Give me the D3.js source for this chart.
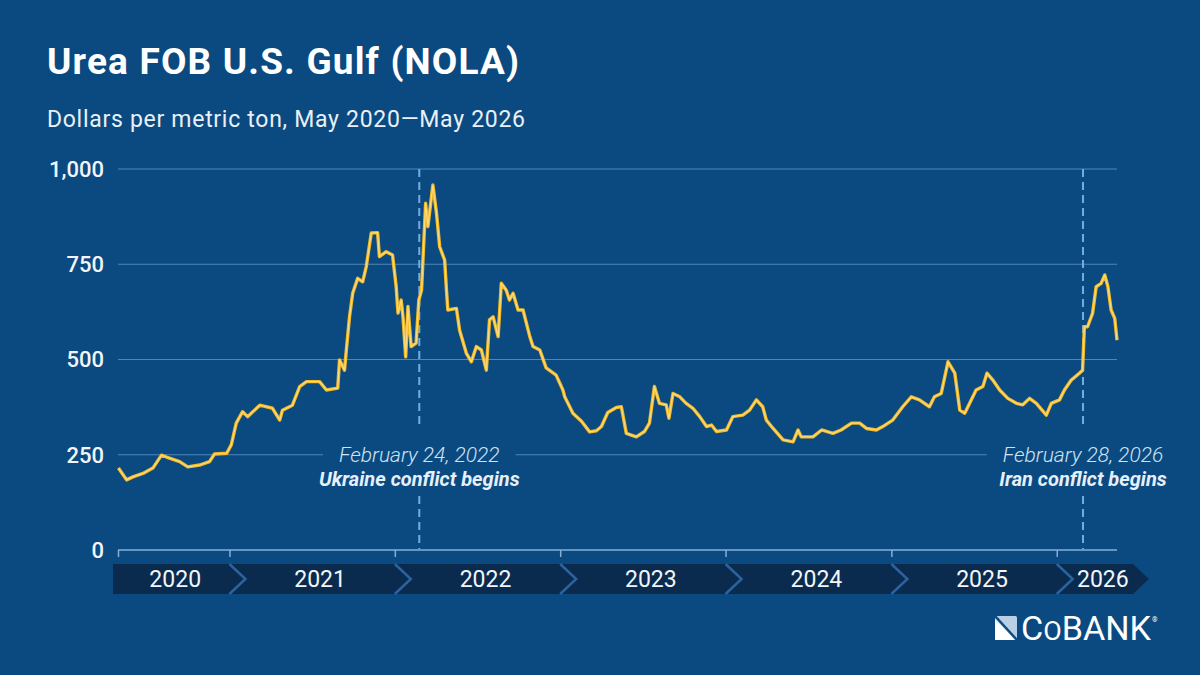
<!DOCTYPE html>
<html><head><meta charset="utf-8">
<script src="https://cdn.jsdelivr.net/npm/d3@7"></script>
<style>
html,body{margin:0;padding:0;background:#0b4a80;}
svg{display:block;font-family:Roboto,"Open Sans",sans-serif;}
</style>
</head><body>
<svg id="c" width="1200" height="675"></svg>
<script>
// ---- data ----
const dates = [
"2020-05-01","2020-05-19","2020-06-02","2020-06-24","2020-07-16","2020-08-04","2020-08-15","2020-09-13","2020-10-01","2020-10-27",
"2020-11-18","2020-11-29","2020-12-26","2021-01-05","2021-01-16","2021-01-30","2021-02-10","2021-03-09","2021-04-06","2021-04-22",
"2021-04-28","2021-05-20","2021-06-05","2021-06-20","2021-07-19","2021-08-03","2021-08-28","2021-09-01","2021-09-12","2021-09-16",
"2021-09-23","2021-09-30","2021-10-11","2021-10-22","2021-10-30","2021-11-10","2021-11-24","2021-11-28","2021-12-13","2021-12-27",
"2022-01-04","2022-01-08","2022-01-15","2022-01-19","2022-01-25","2022-01-30","2022-02-06","2022-02-17","2022-02-23","2022-03-01",
"2022-03-10","2022-03-15","2022-03-26","2022-04-03","2022-04-10","2022-04-21","2022-04-25","2022-04-28","2022-05-17","2022-05-24",
"2022-06-08","2022-06-19","2022-06-30","2022-07-11","2022-07-22","2022-07-29","2022-08-06","2022-08-17","2022-08-24","2022-09-04",
"2022-09-11","2022-09-19","2022-09-30","2022-10-11","2022-10-26","2022-11-02","2022-11-17","2022-12-01","2022-12-23","2023-01-07",
"2023-01-11","2023-01-22","2023-01-29","2023-02-17","2023-03-07","2023-03-22","2023-04-02","2023-04-16","2023-05-05","2023-05-16",
"2023-05-27","2023-06-18","2023-07-06","2023-07-17","2023-07-28","2023-08-08","2023-08-23","2023-08-29","2023-09-07","2023-09-22",
"2023-10-06","2023-10-21","2023-11-05","2023-11-20","2023-12-01","2023-12-12","2024-01-03","2024-01-17","2024-02-08","2024-02-23",
"2024-03-09","2024-03-23","2024-03-31","2024-04-15","2024-05-07","2024-05-29","2024-06-09","2024-06-16","2024-07-12","2024-07-31",
"2024-08-25","2024-09-12","2024-10-05","2024-10-23","2024-11-07","2024-11-29","2024-12-13","2025-01-04","2025-01-26","2025-02-14",
"2025-03-04","2025-03-26","2025-04-06","2025-04-21","2025-05-06","2025-05-21","2025-06-01","2025-06-12","2025-07-07","2025-07-22",
"2025-07-31","2025-08-13","2025-08-28","2025-09-15","2025-10-04","2025-10-18","2025-11-02","2025-11-17","2025-12-09","2025-12-20",
"2026-01-07","2026-01-18","2026-02-02","2026-02-20","2026-02-27","2026-03-03","2026-03-10","2026-03-21","2026-03-29","2026-04-09",
"2026-04-17","2026-04-24","2026-05-01","2026-05-09","2026-05-14"
];
const prices = [
215,184,192,201,215,249,244,232,218,223,
232,252,254,276,333,363,350,380,372,341,
367,380,429,442,442,420,425,499,472,525,
612,674,713,704,744,832,833,770,783,774,
691,622,656,612,507,639,534,543,656,682,
910,849,958,884,796,761,682,630,634,577,
516,494,534,525,472,604,612,560,700,682,
656,674,630,630,560,534,525,478,459,420,
402,376,359,338,310,313,324,361,374,376,
306,297,311,333,429,385,381,346,411,402,
385,372,350,324,328,311,315,350,354,367,
394,376,341,319,289,284,315,297,297,315,
306,315,333,333,319,315,324,341,376,402,
394,376,402,411,494,464,367,359,420,429,
464,446,420,398,385,381,398,385,354,385,
394,420,446,464,472,586,586,621,691,700,
722,691,630,608,551
];
const yTicks = [0, 250, 500, 750, 1000];
const years = [2020, 2021, 2022, 2023, 2024, 2025, 2026];
const eventDates = ["2022-02-24", "2026-02-28"];
const eventDateLabels = ["February 24, 2022", "February 28, 2026"];
const eventCaptions = ["Ukraine conflict begins", "Iran conflict begins"];
const titleText = "Urea FOB U.S. Gulf (NOLA)";
const subtitleText = "Dollars per metric ton, May 2020\u2014May 2026";
const domainStart = "2020-04-30", domainEnd = "2026-05-14";

// ---- setup ----
const BG = "#0b4a80";
const svg = d3.select("#c");
const parse = d3.utcParse("%Y-%m-%d");
svg.append("rect").attr("width",1200).attr("height",675).attr("fill",BG);

const x = d3.scaleUtc().domain([parse(domainStart), parse(domainEnd)]).range([118, 1117]);
const y = d3.scaleLinear().domain([0, 1000]).range([550, 169]);

// title
svg.append("text").attr("x",47).attr("y",74).attr("fill","#ffffff")
  .attr("font-size",37).attr("font-weight",700)
  .attr("textLength",472).attr("lengthAdjust","spacing").text(titleText);
svg.append("text").attr("x",47).attr("y",127).attr("fill","#e9f0f7")
  .attr("font-size",23).attr("font-weight",400)
  .attr("textLength",478).attr("lengthAdjust","spacing").text(subtitleText);

// gridlines
const grid = svg.append("g");
grid.selectAll("line").data(yTicks.filter(d=>d>0)).join("line")
  .attr("x1",x.range()[0]).attr("x2",x.range()[1])
  .attr("y1",d=>y(d)).attr("y2",d=>y(d))
  .attr("stroke","#4f86ba").attr("stroke-width",1.2);

// y labels
svg.append("g").selectAll("text").data(yTicks).join("text")
  .attr("x",104).attr("y",d=>y(d)).attr("dy","0.36em")
  .attr("text-anchor","end").attr("fill","#f2f6fa")
  .attr("font-size",22).attr("font-weight",500)
  .text(d=>d3.format(",")(d));

// x axis line
const xAxis = d3.axisBottom(x)
  .tickValues([parse(domainStart)].concat(years.slice(1).map(yr=>new Date(Date.UTC(yr,0,1)))))
  .tickSize(7).tickFormat("");
const ax = svg.append("g").attr("transform","translate(0,550)").call(xAxis);
ax.select(".domain").attr("stroke","#86afd6").attr("stroke-width",1.5).attr("d",`M${x.range()[0]},0H${x.range()[1]}`);
ax.selectAll(".tick line").attr("stroke","#86afd6").attr("stroke-width",1.5);

// annotations
const annG = svg.append("g");
eventDates.forEach((ds,i)=>{
  const ex = x(parse(ds));
  const g = annG.append("g");
  const t1 = g.append("text").attr("x",ex).attr("y",462).attr("text-anchor","middle")
    .attr("fill","#cfe2f4").attr("font-size",21).attr("font-style","italic").attr("font-weight",300)
    .text(eventDateLabels[i]);
  g.append("text").attr("x",ex).attr("y",486).attr("text-anchor","middle")
    .attr("fill","#e6f0fa").attr("font-size",20).attr("font-style","italic").attr("font-weight",700)
    .text(eventCaptions[i]);
  const b1 = t1.node().getBBox();
  g.insert("rect","text").attr("x",b1.x-16).attr("y",444).attr("width",b1.width+32).attr("height",24).attr("fill",BG);
  [[y(1000),428],[496,549]].forEach(([a,b])=>{
    svg.append("line").attr("x1",ex).attr("x2",ex).attr("y1",a).attr("y2",b)
      .attr("stroke","#74ace0").attr("stroke-width",2).attr("stroke-dasharray","8,5");
  });
});

// price line
const data = dates.map((d,i)=>({date:parse(d), v:prices[i]}));
const line = d3.line().x(d=>x(d.date)).y(d=>y(d.v));
svg.append("path").datum(data).attr("d",line).attr("fill","none")
  .attr("stroke","#f0b728").attr("stroke-width",3.4).attr("stroke-linejoin","round");
svg.append("path").datum(data).attr("d",line).attr("fill","none")
  .attr("stroke","#fbdd7e").attr("stroke-width",1.2).attr("stroke-linejoin","round");

// year band
const bandTop = 564, bandBot = 594, bandMid = (bandTop+bandBot)/2, dep = 16;
const bounds = [113].concat(years.slice(1).map(yr=>x(new Date(Date.UTC(yr,0,1))))).concat([x.range()[1]+16]);
const band = svg.append("g");
years.forEach((yr,i)=>{
  const a = bounds[i], b = bounds[i+1];
  const pts = i===0
    ? [[a,bandTop],[b,bandTop],[b+dep,bandMid],[b,bandBot],[a,bandBot]]
    : [[a,bandTop],[b,bandTop],[b+dep,bandMid],[b,bandBot],[a,bandBot],[a+dep,bandMid]];
  band.append("polygon").attr("points",pts.map(p=>p.join(",")).join(" ")).attr("fill","#0a2b4e");
  if(i>0){
    band.append("polyline").attr("points",`${a},${bandTop} ${a+dep},${bandMid} ${a},${bandBot}`)
      .attr("fill","none").attr("stroke","#2a63a0").attr("stroke-width",2.5);
  }
  band.append("text").attr("x",(a+(i===0?0:dep/2)+b+dep/2)/2).attr("y",bandMid).attr("dy","0.36em")
    .attr("text-anchor","middle").attr("fill","#f2f6fa").attr("font-size",23).attr("font-weight",400)
    .text(yr);
});

// logo
const logo = svg.append("g").attr("transform","translate(995,616)");
logo.append("rect").attr("width",22).attr("height",24).attr("rx",1.5).attr("fill","#b9cfe6");
logo.append("path").attr("d","M0,3 L0,24 L20,24 Z").attr("fill","#ffffff");
logo.append("path").attr("d","M0,0 L22,24").attr("stroke","#0b4a80").attr("stroke-width",2.5);
const lt = svg.append("text").attr("x",1021).attr("y",640).attr("fill","#ffffff").attr("font-size",33).attr("font-weight",400)
  .attr("textLength",130).attr("lengthAdjust","spacingAndGlyphs");
lt.append("tspan").text("C");
lt.append("tspan").attr("font-size",26).text("O");
lt.append("tspan").text("BANK");
svg.append("text").attr("x",1152).attr("y",622).attr("fill","#ffffff").attr("font-size",7).text("\u00AE");
</script>
</body></html>
